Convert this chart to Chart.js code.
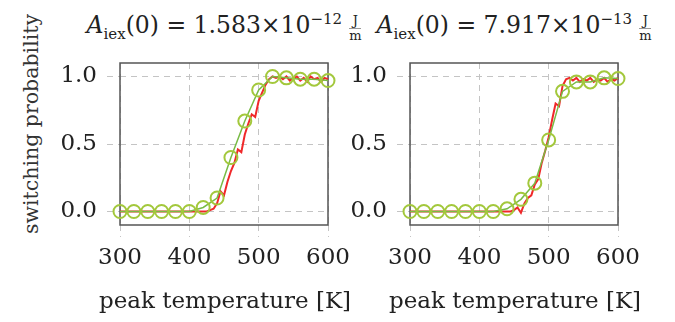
<!DOCTYPE html>
<html lang="en">
<head>
<meta charset="UTF-8">
<title>Switching probability vs peak temperature</title>
<script src="https://cdn.jsdelivr.net/npm/chart.js"></script>
<style>
    body {
        margin: 0;
        background: #fff;
        width: 675px;
        height: 322px;
        position: relative;
        overflow: hidden;
        font-family: "DejaVu Serif", serif;
        color: #222;
    }
    canvas { position: absolute; top: 0; }
    #left { left: 0; }
    #right { left: 330px; }
    .title {
        position: absolute;
        top: 11px;
        width: 340px;
        text-align: center;
        font-size: 23.5px;
        white-space: nowrap;
    }
    .title sub, .title sup { font-size: 15px; line-height: 1; }
    .frac {
        display: inline-block;
        vertical-align: -7px;
        font-size: 13px;
        line-height: 1.1;
        text-align: center;
        margin-left: 7px;
    }
    .frac span { display: block; }
    .frac span:first-child { border-bottom: 1px solid #999; }
    .xtitle {
        position: absolute;
        top: 300px;
        width: 300px;
        transform: translateY(-50%);
        text-align: center;
        font-size: 23px;
        white-space: nowrap;
    }
    #ytitle {
        position: absolute;
        left: 31px;
        top: 124px;
        transform: translate(-50%, -50%) rotate(-90deg);
        font-size: 20.5px;
        color: #333;
        white-space: nowrap;
    }
</style>
</head>
<body>
    <div class="title" style="left:54px"><i>A</i><sub>iex</sub>(0) = 1.583×10<sup>−12</sup><span class="frac"><span>J</span><span>m</span></span></div>
    <div class="title" style="left:344px"><i>A</i><sub>iex</sub>(0) = 7.917×10<sup>−13</sup><span class="frac"><span>J</span><span>m</span></span></div>
    <div id="ytitle">switching probability</div>

    <canvas id="left" width="360" height="322"></canvas>
    <canvas id="right" width="345" height="322"></canvas>

    <div class="xtitle" style="left:75px">peak temperature [K]</div>
    <div class="xtitle" style="left:365px">peak temperature [K]</div>

<script>
// tick values
const xTicks = [300, 400, 500, 600];
const yTicks = [0, 0.5, 1.0];

// marker series (every 20 K)
const tempCoarse = [300, 320, 340, 360, 380, 400, 420, 440, 460, 480, 500, 520, 540, 560, 580, 600];
const leftMarkers  = [0, 0, 0, 0, 0, 0, 0.03, 0.10, 0.40, 0.67, 0.90, 1.00, 0.99, 0.98, 0.98, 0.97];
const rightMarkers = [0, 0, 0, 0, 0, 0, 0, 0.02, 0.09, 0.21, 0.53, 0.89, 0.96, 0.96, 0.99, 0.985];

// noisy simulated curve (every 5 K)
const tempFine = [300, 305, 310, 315, 320, 325, 330, 335, 340, 345,
                  350, 355, 360, 365, 370, 375, 380, 385, 390, 395,
                  400, 405, 410, 415, 420, 425, 430, 435, 440, 445,
                  450, 455, 460, 465, 470, 475, 480, 485, 490, 495,
                  500, 505, 510, 515, 520, 525, 530, 535, 540, 545,
                  550, 555, 560, 565, 570, 575, 580, 585, 590, 595, 600];
const leftCurve = [0, 0, 0, 0, 0, 0, 0, 0, 0, 0,
                   0, 0, 0, 0, 0, 0, 0, 0, 0, 0,
                   0, 0, 0, 0, 0, 0, 0.01, 0.02, 0.06, 0.15,
                   0.12, 0.22, 0.30, 0.36, 0.46, 0.44, 0.57, 0.65, 0.72, 0.70,
                   0.82, 0.88, 0.94, 0.98, 1.00, 0.99, 1.00, 0.98, 1.00, 0.97,
                   0.99, 1.00, 0.97, 0.99, 0.96, 1.00, 0.98, 0.99, 0.96, 0.99, 0.98];
const rightCurve = [0, 0, 0, 0, 0, 0, 0, 0, 0, 0,
                    0, 0, 0, 0, 0, 0, 0, 0, 0, 0,
                    0, 0, 0, 0, 0, 0, 0, 0, 0, 0,
                    0.01, 0.03, -0.01, 0.06, 0.10, 0.12, 0.20, 0.24, 0.36, 0.45,
                    0.55, 0.68, 0.80, 0.78, 0.93, 0.98, 0.99, 0.97, 0.99, 0.96,
                    0.98, 0.97, 0.99, 0.96, 0.98, 0.97, 0.99, 0.96, 0.98, 0.97, 0.99];

const boxPlugin = {
    id: 'box',
    beforeDatasetsDraw(chart) {
        const { ctx, chartArea: a } = chart;
        ctx.save();
        ctx.strokeStyle = '#555';
        ctx.lineWidth = 1.5;
        ctx.strokeRect(a.left, a.top, a.right - a.left, a.bottom - a.top);
        ctx.restore();
    }
};

function makePanel(id, curve, markers, yWidth, padRight) {
    const tickFont = { family: 'DejaVu Serif', size: 23 };
    new Chart(document.getElementById(id), {
        type: 'line',
        data: {
            datasets: [
                {
                    data: tempCoarse.map((t, i) => ({ x: t, y: markers[i] })),
                    borderColor: '#78bb45',
                    borderWidth: 1.5,
                    pointRadius: 6.5,
                    pointBorderWidth: 2,
                    pointBorderColor: '#a3c83c',
                    pointBackgroundColor: 'rgba(0,0,0,0)',
                    tension: 0,
                    clip: false
                },
                {
                    data: tempFine.map((t, i) => ({ x: t, y: curve[i] })),
                    borderColor: '#f0282a',
                    borderWidth: 2,
                    pointRadius: 0,
                    tension: 0,
                    clip: false
                }
            ]
        },
        options: {
            responsive: false,
            animation: false,
            events: [],
            layout: { padding: { top: 63, right: padRight, left: 0, bottom: 0 } },
            plugins: { legend: { display: false }, tooltip: { enabled: false } },
            scales: {
                x: {
                    type: 'linear',
                    min: 300,
                    max: 600,
                    afterBuildTicks: (axis) => { axis.ticks = xTicks.map(v => ({ value: v })); },
                    afterFit: (axis) => { axis.height = 97; },
                    grid: {
                        color: '#c4c4c4',
                        lineWidth: 1,
                        tickLength: 12,
                        tickBorderDash: [6, 5]
                    },
                    border: { display: false, dash: [6, 5] },
                    ticks: { color: '#222', font: tickFont, padding: 7, maxRotation: 0 }
                },
                y: {
                    min: -0.1,
                    max: 1.1,
                    afterBuildTicks: (axis) => { axis.ticks = yTicks.map(v => ({ value: v })); },
                    afterFit: (axis) => { axis.width = yWidth; },
                    grid: {
                        color: '#c4c4c4',
                        lineWidth: 1,
                        tickLength: 13,
                        tickBorderDash: [6, 5]
                    },
                    border: { display: false, dash: [6, 5] },
                    ticks: {
                        color: '#222',
                        font: tickFont,
                        padding: 10,
                        callback: (v) => v.toFixed(1)
                    }
                }
            }
        },
        plugins: [boxPlugin]
    });
}

makePanel('left', leftCurve, leftMarkers, 120, 32);
makePanel('right', rightCurve, rightMarkers, 80, 57);
</script>
</body>
</html>
